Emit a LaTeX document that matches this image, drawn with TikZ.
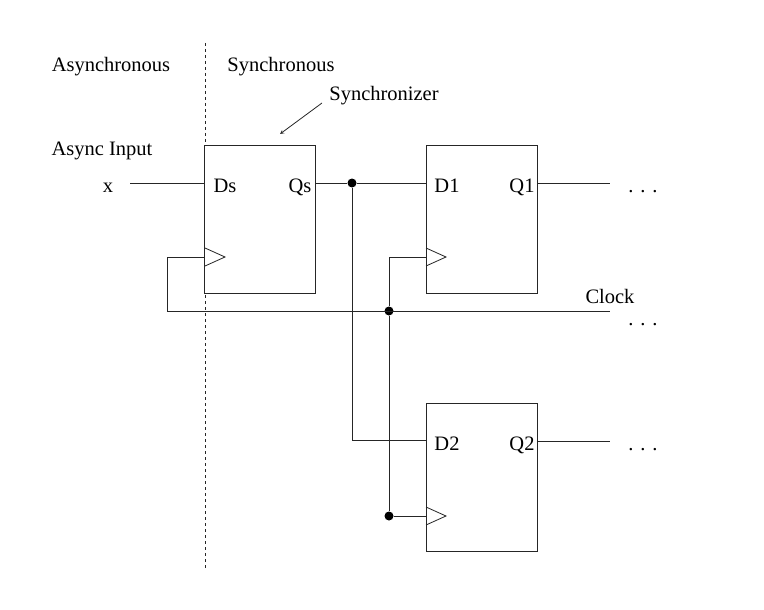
\documentclass[tikz,border=0pt]{standalone}
\usepackage{fontspec}
\setmainfont{Liberation Serif}
\usetikzlibrary{calc}
\begin{document}
\begin{tikzpicture}[x=1pt,y=-1pt,
ff/.style = {draw, fill=white, rectangle, minimum width=111pt, minimum height=148pt, inner sep=0pt},
lbl/.style = {font=\fontsize{20.5}{24}\selectfont, inner sep=0pt, anchor=base},
dot/.style = {circle, fill=black, inner sep=0pt, minimum size=9pt},
line width=0.8pt, draw=black!85,
>=stealth
]
\useasboundingbox (0,0) rectangle (764,610);

    \draw [dashed] (205,43) -- (205,570);

    \node [lbl] (async) at (111,72) {Asynchronous};
    \node [lbl] (sync) at (281,72) {Synchronous};
    \node [lbl] (syncr) at (384,100) {Synchronizer};
    \node [lbl] (ain) at (102,155) {Async Input};
    \node [lbl] (x) at (108,192) {x};

    \node [ff] (fs) at (260,219) {};
    \node [ff] (f1) at (481.5,219) {};
    \node [ff] (f2) at (481.5,477) {};

    \node [lbl] (ds) at (225,192) {Ds};
    \node [lbl] (qs) at (300,192) {Qs};
    \node [lbl] (d1) at (447,192) {D1};
    \node [lbl] (q1) at (522,192) {Q1};
    \node [lbl] (d2) at (447,450) {D2};
    \node [lbl] (q2) at (522,450) {Q2};
    \foreach \xx/\yy in {205/257, 426/257, 426/516}
        \draw (\xx,\yy-9) -- (\xx+20,\yy) -- (\xx,\yy+9);

    \coordinate (xin) at (130,183);
    \draw (xin) -- (xin -| fs.west);
    \node [dot] (j1) at (352,183) {};
    \draw (fs.east |- xin) -- (j1) -- (f1.west |- xin);
    \draw (j1) -- (352,440) -- (f2.west |- 0,440);

    \coordinate (o1) at (610,183);
    \coordinate (o2) at (610,441);
    \draw (f1.east |- o1) -- (o1);
    \draw (f2.east |- o2) -- (o2);
    \node [lbl] (e1) at (643,192) {. . .};
    \node [lbl] (e2) at (643,450) {. . .};

    % clock
    \coordinate (clk) at (610,311);
    \node [dot] (j2) at (389,311) {};
    \node [dot] (j3) at (389,516) {};
    \draw (fs.west |- 0,257) -- (167,257) -- (167,311) -- (clk);
    \draw (f1.west |- 0,257) -- (389,257) -- (j2) -- (j3) -- (f2.west |- j3);
    \node [lbl] (clock) at (610,303) {Clock};
    \node [lbl] (e3) at (643,325) {. . .};

    \draw [->] (322,103) -- (280,134);
\end{tikzpicture}
\end{document}
